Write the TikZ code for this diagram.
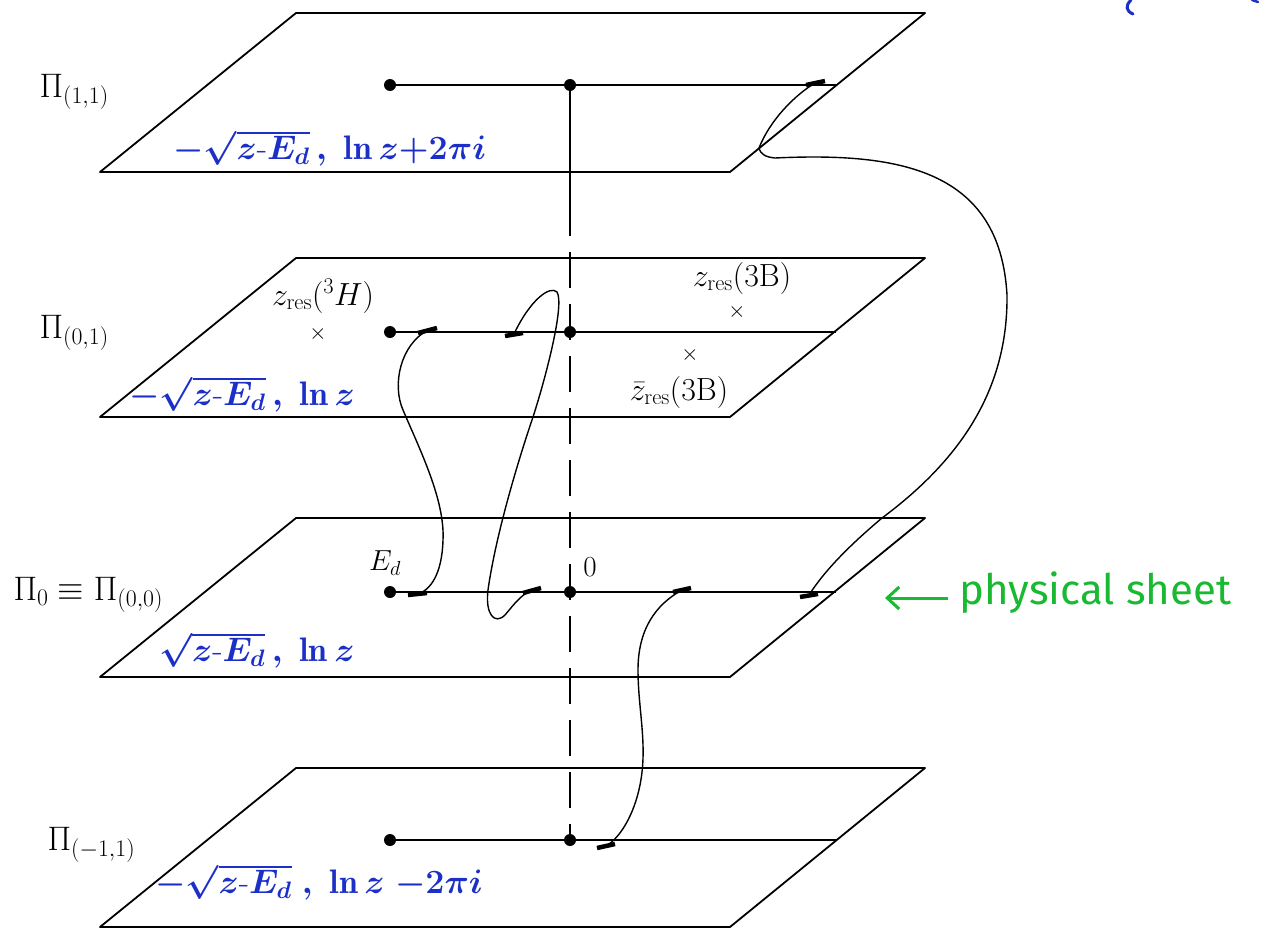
\RequirePackage{fix-cm}
\documentclass[tikz,border=0pt]{standalone}
\usepackage{amsmath}
\usepackage{fontspec}
\usetikzlibrary{arrows.meta}
\newfontfamily\greenfont{Fira Sans}
\definecolor{hblue}{RGB}{28,48,200}
\definecolor{hgreen}{RGB}{25,185,50}
\begin{document}
\begin{tikzpicture}[x=1pt,y=-1pt,line join=round,
  sheet/.style={line width=1.8pt},
  branch/.style={line width=1.6pt},
  dot/.style={circle,fill=black,inner sep=0pt,minimum size=12pt},
  cutmark/.style={line width=4.5pt},
  sheetcurve/.style={line width=1.4pt},
  vline/.style={line width=1.4pt},
  lbl/.style={font=\fontsize{34}{38}\selectfont},
  reslbl/.style={font=\fontsize{32}{36}\selectfont,inner sep=1pt},
  smalllbl/.style={font=\fontsize{29}{32}\selectfont},
  crossmark/.style={font=\fontsize{22}{24}\selectfont,inner sep=0pt},
  hand/.style={text=hblue,anchor=west,font=\fontsize{34}{38}\selectfont\boldmath}]
\useasboundingbox (0,0) rectangle (1267,929);
\fill[white] (0,0) rectangle (1267,929);

% sheets
\foreach \t in {13,258,518,768}{
  \draw[sheet] (296,\t) -- (925,\t) -- (730,\t+159) -- (100,\t+159) -- cycle;
}

% branch points and cuts
\coordinate (L1) at (390,85);  \coordinate (O1) at (570,85);  \coordinate (R1) at (836,85);
\coordinate (L2) at (390,332); \coordinate (O2) at (570,332); \coordinate (R2) at (836,332);
\coordinate (L3) at (390,592); \coordinate (O3) at (570,592); \coordinate (R3) at (836,592);
\coordinate (L4) at (390,840); \coordinate (O4) at (570,840); \coordinate (R4) at (836,840);
\foreach \k in {1,2,3,4}{ \draw[branch] (L\k) -- (R\k); }

% vertical line through the origin
\coordinate (V1) at (570,200);
\draw[vline] (O1) -- (V1);
\draw[vline,dash pattern=on 36pt off 16pt] (V1) -- (O4);

% cut marks
\coordinate (A1) at (815,83);
\coordinate (A2) at (809,595);
\coordinate (B1) at (428,330);
\coordinate (B2) at (418,594);
\coordinate (C1) at (514,334);
\coordinate (C2) at (532,590);
\coordinate (D1) at (682,590);
\coordinate (D2) at (606,846);
\draw[cutmark] (806,85) -- (825,81);
\draw[cutmark] (800,597) -- (818,594);
\draw[cutmark] (418,333) -- (437,328);
\draw[cutmark] (408,595) -- (427,593);
\draw[cutmark] (505,336) -- (523,333);
\draw[cutmark] (523,593) -- (541,588);
\draw[cutmark] (673,592) -- (691,588);
\draw[cutmark] (597,848) -- (615,844);

% connecting paths between sheets
\draw[sheetcurve] (A1) .. controls (795,95) and (770,120) .. (759,148)
  .. controls (761,155) and (766,157) .. (775,158)
  .. controls (900,152) and (1000,170) .. (1007,295)
  .. controls (1008,390) and (960,460) .. (882,518)
  .. controls (850,545) and (825,570) .. (A2);
\draw[sheetcurve] (B1) .. controls (400,345) and (392,385) .. (403,410)
  .. controls (420,450) and (445,500) .. (443,540)
  .. controls (442,575) and (430,590) .. (B2);
\draw[sheetcurve] (C1) .. controls (530,300) and (550,285) .. (557,292)
  .. controls (565,305) and (545,380) .. (533,417)
  .. controls (515,470) and (495,540) .. (488,590)
  .. controls (485,615) and (495,625) .. (505,615)
  .. controls (512,607) and (520,595) .. (C2);
\draw[sheetcurve] (D1) .. controls (655,605) and (638,630) .. (638,670)
  .. controls (638,710) and (648,745) .. (640,785)
  .. controls (634,815) and (620,838) .. (D2);

% dots
\foreach \k in {1,2,3,4}{
  \node[dot] (dL\k) at (L\k) {};
  \node[dot] (dO\k) at (O\k) {};
}

% sheet labels
\node[lbl,anchor=west] (p11) at (36,92) {$\Pi_{(1,1)}$};
\node[lbl,anchor=west] (p01) at (36,333) {$\Pi_{(0,1)}$};
\node[lbl,anchor=west] (p00) at (10,595) {$\Pi_0\equiv\Pi_{(0,0)}$};
\node[lbl,anchor=west] (pm11) at (44,845) {$\Pi_{(-1,1)}$};

% resonance labels
\node[reslbl] (zH) at (323,296) {$z_{\mathrm{res}}(^3H)$};
\node[crossmark] (xH) at (318,334) {$\times$};
\node[reslbl] (zB) at (742,278) {$z_{\mathrm{res}}(3\mathrm{B})$};
\node[crossmark] (xB) at (737,312) {$\times$};
\node[crossmark] (xBb) at (690,355) {$\times$};
\node[reslbl] (zBb) at (679,392) {$\bar z_{\mathrm{res}}(3\mathrm{B})$};
\node[smalllbl] (Ed) at (385,563) {$E_d$};
\node[smalllbl] (zero) at (590,567) {$0$};

% handwritten annotations
\node[hand] (h1) at (170,148) {$-\sqrt{z\text{-}E_d}\,,\ \ln z{+}2\pi i$};
\node[hand] (h2) at (126,394) {$-\sqrt{z\text{-}E_d}\,,\ \ln z$};
\node[hand] (h3) at (156,650) {$\sqrt{z\text{-}E_d}\,,\ \ln z$};
\node[hand] (h4) at (152,882) {$-\sqrt{z\text{-}E_d}\ ,\ \ln z\ {-}2\pi i$};

% physical sheet
\node[text=hgreen,anchor=west,font=\greenfont\fontsize{42}{46}\selectfont] (phys) at (956,593) {physical sheet};
\coordinate (arrowtail) at (948,598);
\coordinate (arrowhead) at (885,598);
\draw[hgreen,line width=3pt,-{Straight Barb[length=12pt,width=22pt]}] (arrowtail) -- (arrowhead);

% cut-off handwriting at top right
\draw[hblue,line width=3pt,line cap=round] (1131,0) .. controls (1125,6) and (1126,11) .. (1133,14);
\draw[hblue,line width=2.5pt,line cap=round] (1252,0) -- (1258,2);
\end{tikzpicture}
\end{document}
